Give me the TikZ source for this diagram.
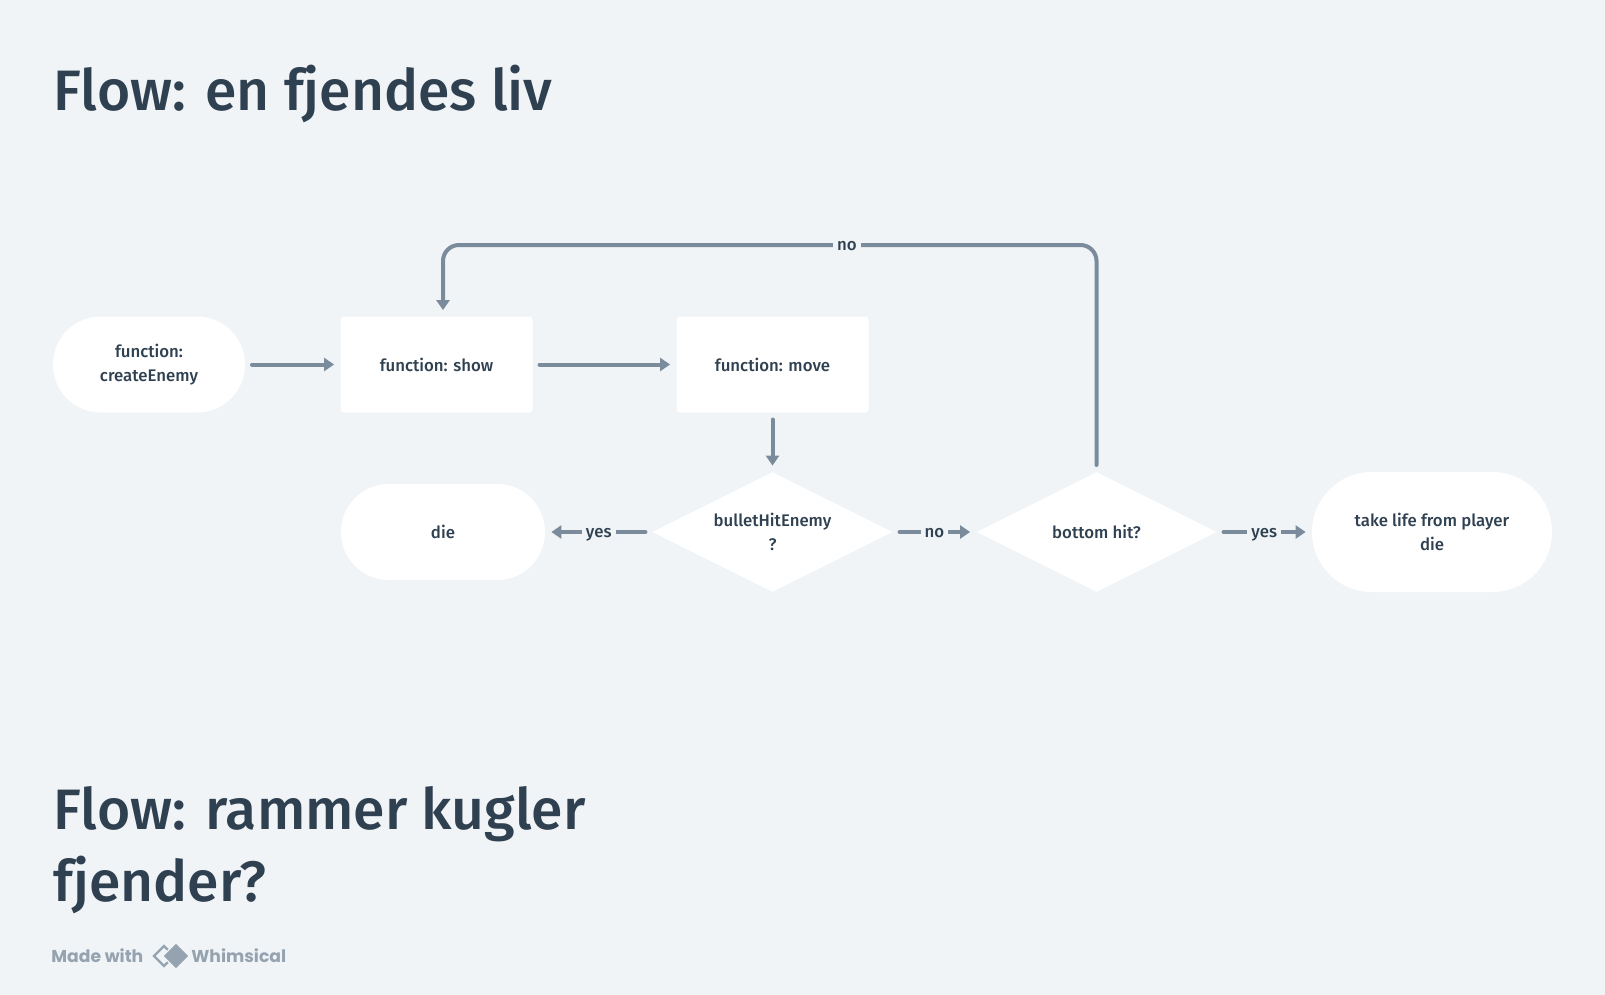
\documentclass[tikz,border=0pt]{standalone}
\usepackage{fontspec}
\setmainfont{Fira Sans Medium}
\newfontfamily\footfont{Poppins}
\usetikzlibrary{arrows.meta,shapes.geometric}
\definecolor{pagebg}{HTML}{F0F4F7}
\definecolor{inktext}{HTML}{2F4050}
\definecolor{flowline}{HTML}{7A8B9C}
\definecolor{footgray}{HTML}{94A3AF}
\tikzset{
	titletext/.style={anchor=north west, align=left, inner sep=0pt, text=inktext, font=\fontsize{28.5}{36}\selectfont},
	pagenode/.style={fill=white, text=inktext, font=\fontsize{8.4}{12}\selectfont, align=center, inner sep=0pt},
	procbox/.style={pagenode, minimum width=96pt, minimum height=48pt, rounded corners=1.5pt},
	endcap/.style={pagenode, minimum height=48pt, rounded corners=23.9pt},
	bigcap/.style={pagenode, minimum width=120pt, minimum height=60pt, rounded corners=29.9pt},
	question/.style={pagenode, shape=diamond, aspect=2, minimum width=120pt, minimum height=60pt},
	flow/.style={draw=flowline, line width=2pt, line cap=round, -{Triangle[length=5pt,width=6.5pt]}, shorten <=3.3pt, shorten >=3pt},
	flowlabel/.style={fill=pagebg, sharp corners, text=inktext, font=\fontsize{8.4}{10}\selectfont, inner xsep=2pt, inner ysep=0pt, text height=4.6pt, text depth=1.8pt, yshift=-1.3pt},
	footword/.style={anchor=base west, inner sep=0pt, text=footgray, font=\footfont\bfseries\fontsize{8.6}{11}\selectfont},
}
\begin{document}
\begin{tikzpicture}[x=0.5pt,y=-0.5pt]
	\fill[pagebg] (0,0) rectangle (1605,995);

	% Titles
	\node[titletext] (titleone) at (53,64.5) {Flow: en fjendes liv};
	\node[titletext] (titletwo) at (53,786.5) {Flow: rammer kugler\\fjender?};

	% Nodes of the flow
	\node[endcap, minimum width=96pt] (create) at (149,364.5) {function:\\createEnemy};
	\node[procbox] (show) at (436.5,364.5) {function: show};
	\node[procbox] (move) at (772.5,364.5) {function: move};
	\node[endcap, minimum width=102pt] (die) at (443,532) {die};
	\node[question] (bullet) at (772.5,532) {bulletHitEnemy\\?};
	\node[question] (bottom) at (1096.5,532) {bottom hit?};
	\node[bigcap] (life) at (1432,532) {take life from player\\die};

	% Arrows
	\draw[flow] (create) -- (show);
	\draw[flow] (show) -- (move);
	\draw[flow] (move) -- (bullet);
	\draw[flow] (bullet) -- node[flowlabel] {yes} (die);
	\draw[flow] (bullet) -- node[flowlabel] {no} (bottom);
	\draw[flow] (bottom) -- node[flowlabel] {yes} (life);

	% Way back to show
	\coordinate (looptop) at (443,245);
	\draw[flow, rounded corners=8pt] (bottom.north) |- node[flowlabel, pos=0.691] {no} (looptop) -- (looptop |- show.north);

	% Footer
	\node[footword] (made) at (51,962) {Made with};
	\node[footword] (brand) at (191,962) {Whimsical};
	\node[shape=diamond, aspect=1, draw=footgray, line width=1.2pt, minimum size=10.5pt, inner sep=0pt] (logoback) at (164,956) {};
	\node[shape=diamond, aspect=1, fill=footgray, draw=pagebg, line width=0.6pt, minimum size=13.5pt, inner sep=0pt] (logofront) at (176,956) {};
\end{tikzpicture}
\end{document}
